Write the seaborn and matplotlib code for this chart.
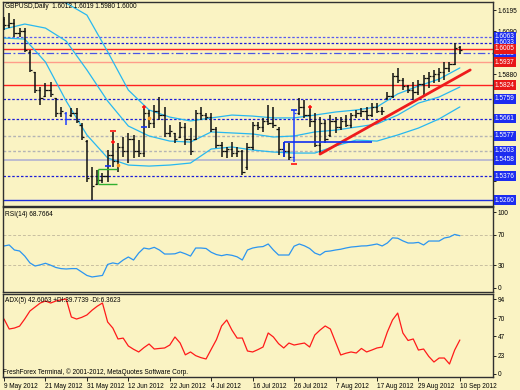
import matplotlib
matplotlib.use("Agg")
import matplotlib.pyplot as plt
import matplotlib.transforms as mtransforms
import seaborn as sns
import numpy as np
import pandas as pd

sns.set_theme(style="white")
plt.rcParams["font.family"] = ["Liberation Sans", "DejaVu Sans"]

BG = "#faf3c3"
W, H = 520, 390
FS = 4.7

# ---- data ----
dates = pd.bdate_range("2012-05-09", "2012-09-10")

highs = [1.6161, 1.6180, 1.6151, 1.6106, 1.6106, 1.5998, 1.5890, 1.5816, 1.5836, 1.5841,
         1.5762, 1.5718, 1.5693, 1.5713, 1.5713, 1.5639, 1.5555, 1.5423, 1.5408, 1.5393,
         1.5506, 1.5595, 1.5541, 1.5570, 1.5590, 1.5580, 1.5555, 1.5718, 1.5703, 1.5728,
         1.5767, 1.5718, 1.5629, 1.5590, 1.5644, 1.5639, 1.5614, 1.5703, 1.5718, 1.5688,
         1.5688, 1.5619, 1.5546, 1.5521, 1.5546, 1.5521, 1.5506, 1.5541, 1.5644, 1.5644,
         1.5664, 1.5728, 1.5718, 1.5619, 1.5546, 1.5541, 1.5703, 1.5762, 1.5752, 1.5718,
         1.5688, 1.5669, 1.5654, 1.5678, 1.5669, 1.5669, 1.5678, 1.5688, 1.5703, 1.5713,
         1.5718, 1.5737, 1.5737, 1.5718, 1.5791, 1.5885, 1.5910, 1.5860, 1.5826, 1.5841,
         1.5851, 1.5875, 1.5890, 1.5900, 1.5910, 1.5939, 1.5939, 1.6033, 1.6019]
lows = [1.6097, 1.6106, 1.6062, 1.6062, 1.5988, 1.5890, 1.5787, 1.5728, 1.5767, 1.5767,
        1.5669, 1.5669, 1.5629, 1.5669, 1.5639, 1.5555, 1.5349, 1.5260, 1.5334, 1.5344,
        1.5349, 1.5423, 1.5398, 1.5472, 1.5442, 1.5467, 1.5472, 1.5472, 1.5614, 1.5614,
        1.5654, 1.5570, 1.5570, 1.5541, 1.5565, 1.5531, 1.5482, 1.5555, 1.5654, 1.5654,
        1.5595, 1.5516, 1.5472, 1.5467, 1.5472, 1.5472, 1.5383, 1.5408, 1.5506, 1.5605,
        1.5595, 1.5629, 1.5614, 1.5482, 1.5472, 1.5457, 1.5447, 1.5678, 1.5664, 1.5619,
        1.5521, 1.5491, 1.5541, 1.5570, 1.5590, 1.5605, 1.5619, 1.5614, 1.5664, 1.5669,
        1.5654, 1.5669, 1.5688, 1.5678, 1.5752, 1.5762, 1.5836, 1.5801, 1.5787, 1.5752,
        1.5777, 1.5777, 1.5811, 1.5836, 1.5841, 1.5851, 1.5890, 1.5924, 1.5980]
opens = [1.6150, 1.6120, 1.6130, 1.6080, 1.6090, 1.5990, 1.5890, 1.5800, 1.5770, 1.5800,
         1.5760, 1.5690, 1.5690, 1.5680, 1.5690, 1.5630, 1.5550, 1.5380, 1.5340, 1.5360,
         1.5380, 1.5480, 1.5450, 1.5520, 1.5500, 1.5560, 1.5500, 1.5490, 1.5690, 1.5640,
         1.5700, 1.5680, 1.5590, 1.5590, 1.5570, 1.5620, 1.5560, 1.5560, 1.5690, 1.5680,
         1.5670, 1.5610, 1.5530, 1.5500, 1.5510, 1.5490, 1.5500, 1.5420, 1.5520, 1.5630,
         1.5620, 1.5650, 1.5640, 1.5610, 1.5510, 1.5500, 1.5470, 1.5690, 1.5720, 1.5680,
         1.5650, 1.5530, 1.5640, 1.5580, 1.5650, 1.5620, 1.5650, 1.5630, 1.5680, 1.5690,
         1.5700, 1.5680, 1.5720, 1.5700, 1.5760, 1.5770, 1.5870, 1.5850, 1.5820, 1.5800,
         1.5790, 1.5830, 1.5860, 1.5870, 1.5880, 1.5890, 1.5910, 1.5930, 1.6012]
closes = [1.6120, 1.6130, 1.6080, 1.6090, 1.6000, 1.5900, 1.5800, 1.5760, 1.5800, 1.5780,
          1.5690, 1.5700, 1.5660, 1.5690, 1.5650, 1.5570, 1.5370, 1.5330, 1.5360, 1.5380,
          1.5480, 1.5450, 1.5520, 1.5500, 1.5560, 1.5500, 1.5490, 1.5690, 1.5640, 1.5700,
          1.5680, 1.5590, 1.5600, 1.5560, 1.5620, 1.5560, 1.5500, 1.5690, 1.5680, 1.5670,
          1.5610, 1.5530, 1.5500, 1.5510, 1.5490, 1.5500, 1.5400, 1.5520, 1.5630, 1.5620,
          1.5650, 1.5640, 1.5630, 1.5510, 1.5500, 1.5470, 1.5690, 1.5720, 1.5680, 1.5650,
          1.5530, 1.5640, 1.5560, 1.5650, 1.5620, 1.5650, 1.5630, 1.5680, 1.5690, 1.5700,
          1.5680, 1.5720, 1.5700, 1.5700, 1.5770, 1.5870, 1.5850, 1.5820, 1.5800, 1.5790,
          1.5830, 1.5860, 1.5870, 1.5880, 1.5890, 1.5910, 1.5930, 1.6010, 1.6000]
blue_bars = [12, 56]

# envelope / bands (read every 4th bar)
band_idx = list(range(0, 89, 4))
band_upper = [1.6392, 1.6333, 1.6269, 1.6229, 1.6170, 1.5990, 1.5801, 1.5703, 1.5668, 1.5649,
              1.5664, 1.5678, 1.5673, 1.5664, 1.5664, 1.5678, 1.5693, 1.5703, 1.5718, 1.5782,
              1.5821, 1.5855, 1.5910]
band_mid = [1.6101, 1.6126, 1.6106, 1.6042, 1.5900, 1.5747, 1.5624, 1.5575, 1.5550, 1.5545,
            1.5595, 1.5590, 1.5585, 1.5570, 1.5575, 1.5595, 1.5604, 1.5619, 1.5634, 1.5678,
            1.5737, 1.5767, 1.5816]
band_lower = [1.6057, 1.6052, 1.5939, 1.5747, 1.5580, 1.5467, 1.5432, 1.5427, 1.5432, 1.5442,
              1.5511, 1.5521, 1.5506, 1.5496, 1.5491, 1.5491, 1.5526, 1.5555, 1.5550, 1.5580,
              1.5614, 1.5659, 1.5718]

# horizontal levels
level_prices = [1.5983, 1.6063, 1.6033, 1.6005, 1.5937, 1.5824, 1.5759, 1.5661,
                1.5577, 1.5503, 1.5458, 1.5376, 1.5260]
level_kinds = ["dashdot", "dotlight", "dot", "red", "salmon", "red", "dot", "dot",
               "grey", "grey", "lavender", "dot", "solidblue"]

trend_idx = [61, 90]
trend_price = [1.5486, 1.5900]
green_x = [18.1, 21.9]
green_y = [1.5339, 1.5413]
bluebox_x = [54, 71]
bluebox_y = [1.5472, 1.5545]

red_marks_idx = [21, 27, 59]
red_marks_price = [1.5545, 1.5718, 1.5718]
blue_dash_idx = [27, 56, 20]
blue_dash_price = [1.5619, 1.5703, 1.5425]
red_dash_idx = [56, 21]
red_dash_price = [1.5437, 1.5600]
orange_idx = [22, 28]
orange_price = [1.5432, 1.5664]

rsi = [55.3, 56.6, 50.0, 48.7, 42.0, 33.0, 28.9, 30.5, 32.5, 30.0,
       27.0, 25.5, 25.0, 25.5, 25.5, 21.0, 16.5, 14.5, 15.5, 16.5,
       31.0, 33.0, 31.6, 36.8, 40.8, 36.8, 46.0, 52.6, 51.3, 53.5,
       50.0, 44.7, 44.7, 45.0, 47.4, 45.0, 42.0, 52.6, 52.6, 52.0,
       47.0, 44.0, 42.5, 44.0, 43.0, 41.0, 36.8, 50.0, 52.6, 53.9,
       54.5, 57.9, 50.0, 43.4, 43.4, 43.4, 55.0, 57.9, 55.5, 52.0,
       46.0, 43.4, 48.0, 48.7, 50.0, 51.0, 52.6, 53.9, 54.5, 55.3,
       55.5, 56.6, 57.9, 55.3, 59.2, 66.0, 65.5, 62.0, 59.2, 59.2,
       60.0, 56.6, 61.8, 61.8, 61.8, 65.8, 67.1, 70.5, 68.8]
adx = [68.9, 56.4, 57.6, 60.0, 69.0, 79.0, 84.0, 89.0, 91.5, 89.0,
       91.5, 93.0, 94.0, 71.4, 68.9, 71.0, 74.0, 80.0, 85.0, 89.0,
       65.2, 57.6, 43.9, 45.0, 35.1, 31.0, 27.6, 33.0, 37.6, 31.3,
       32.0, 32.6, 36.3, 46.4, 38.8, 24.0, 27.6, 23.0, 20.5, 18.8,
       31.0, 43.0, 60.2, 67.7, 55.0, 45.0, 45.1, 28.8, 27.6, 30.5,
       33.8, 51.4, 46.4, 38.0, 32.6, 38.8, 36.3, 37.6, 38.8, 33.8,
       48.9, 55.0, 60.2, 56.4, 40.0, 23.8, 26.0, 27.6, 26.3, 32.0,
       27.6, 30.0, 32.6, 33.8, 52.6, 67.7, 76.4, 51.4, 42.0, 43.9,
       30.0, 31.3, 22.0, 15.0, 20.0, 20.0, 12.5, 30.0, 42.6]

price_ticks = [1.6195, 1.6090, 1.5985, 1.5880, 1.5775, 1.5670, 1.5565, 1.5460, 1.5355, 1.5250]
price_tick_shown = [1.6195, 1.6090, 1.5880]
rsi_ticks = [0, 30, 70, 100]
adx_ticks = [0, 23, 47, 70, 94]

# ---- figure ----
fig = plt.figure(figsize=(W / 100, H / 100), dpi=100, facecolor=BG)


def axes_px(left, top, right, bottom):
    return fig.add_axes([left / W, 1 - bottom / H, (right - left) / W, (bottom - top) / H])


ax = axes_px(3, 2, 493, 206)
ax_rsi = axes_px(3, 207, 493, 292)
ax_adx = axes_px(3, 294, 493, 377)

for a in (ax, ax_rsi, ax_adx):
    a.set_facecolor(BG)
    for s in a.spines.values():
        s.set_color("#303030")
        s.set_linewidth(1.0)
    a.yaxis.tick_right()
    a.tick_params(axis="y", length=2, width=0.6, labelsize=FS, pad=1.5,
                  colors="black", right=True, left=False)
    a.tick_params(axis="x", bottom=False, labelbottom=False)

idx = np.arange(len(dates))

# main price panel
ax.set_ylim(1.52305, 1.62344)
ax.set_yticks(price_ticks)
ax.set_yticklabels([f"{p:.4f}" if p in price_tick_shown else "" for p in price_ticks])

styles = {
    "dashdot": dict(color="#4b55e6", ls=(0, (6, 2, 1.5, 2)), lw=0.9),
    "dotlight": dict(color="#5a5af0", ls=(0, (2, 1.5)), lw=0.9),
    "dot": dict(color="#1c1cd8", ls=(0, (2, 1.5)), lw=0.9),
    "red": dict(color="#ff2020", ls="-", lw=1.0),
    "salmon": dict(color="#ff9d8a", ls="-", lw=1.0),
    "grey": dict(color="#b4b4b4", ls=(0, (2, 1.5)), lw=1.0),
    "lavender": dict(color="#b8b8d0", ls="-", lw=1.3),
    "solidblue": dict(color="#2030e0", ls="-", lw=1.0),
}
for p, k in zip(level_prices, level_kinds):
    ax.axhline(p, zorder=1, **styles[k])

cyan = "#28b8f0"
for band in (band_upper, band_mid, band_lower):
    sns.lineplot(x=band_idx, y=band, ax=ax, color=cyan, linewidth=0.9, zorder=2)

bar_colors = ["#2040ff" if i in blue_bars else "#101010" for i in idx]
ax.vlines(idx, lows, highs, colors=bar_colors, linewidth=1.1, zorder=3)
ax.hlines(opens, idx - 0.45, idx, colors=bar_colors, linewidth=0.9, zorder=3)
ax.hlines(closes, idx, idx + 0.45, colors=bar_colors, linewidth=0.9, zorder=3)

ax.plot(trend_idx, trend_price, color="#ee1c1c", linewidth=2.0, zorder=4)
ax.hlines(green_y, green_x[0], green_x[1], colors="#30b030", linewidth=1.0, zorder=4)
ax.vlines(green_x[0], green_y[0], green_y[1], colors="#30b030", linewidth=1.0, zorder=4)
ax.hlines(bluebox_y[1], bluebox_x[0], bluebox_x[1], colors="#1030f0", linewidth=1.2, zorder=4)
ax.vlines(bluebox_x[0], bluebox_y[0], bluebox_y[1], colors="#1030f0", linewidth=1.2, zorder=4)

ax.plot(red_marks_idx, red_marks_price, ls="none", marker="+", ms=3.5, mew=1.1,
        color="#ff1010", zorder=5)
ax.plot(blue_dash_idx, blue_dash_price, ls="none", marker="_", ms=4, mew=1.2,
        color="#1030f0", zorder=5)
ax.plot(red_dash_idx, red_dash_price, ls="none", marker="_", ms=4, mew=1.2,
        color="#ff1010", zorder=5)
ax.plot(orange_idx, orange_price, ls="none", marker="o", ms=1.6, color="#ff9a20", zorder=5)

trans = mtransforms.blended_transform_factory(ax.transAxes, ax.transData)
for p, k in zip(level_prices, level_kinds):
    fc = "#e81818" if k in ("red", "salmon") else "#1c2cf0"
    ax.text(1.004, p, f"{p:.4f}", transform=trans, fontsize=FS, color="white",
            va="center", ha="left", clip_on=False, zorder=6,
            bbox=dict(boxstyle="square,pad=0.22", fc=fc, ec="none"))

# RSI
ax_rsi.set_ylim(-5.3, 106.6)
ax_rsi.set_yticks(rsi_ticks)
for lvl in (30, 70):
    ax_rsi.axhline(lvl, color="#c8bfa0", ls=(0, (3, 2)), lw=0.7, zorder=1)
sns.lineplot(x=idx, y=rsi, ax=ax_rsi, color="#2b95f0", linewidth=0.9)

# ADX
ax_adx.set_ylim(-3.8, 100.3)
ax_adx.set_yticks(adx_ticks)
sns.lineplot(x=idx, y=adx, ax=ax_adx, color="#ff1a1a", linewidth=0.9)

for a in (ax, ax_rsi, ax_adx):
    a.set_xlim(-0.2, 94.4)
    a.set_xlabel("")
    a.set_ylabel("")

ax_adx.set_xticks(idx[::8])
ax_adx.set_xticklabels([f"{d.day} {d:%b %Y}" for d in dates[::8]], ha="left")
ax_adx.tick_params(axis="x", bottom=True, labelbottom=True, length=3, width=0.6,
                   labelsize=FS, pad=1, colors="black")


def ftext(x, y, s, **kw):
    fig.text(x / W, 1 - y / H, s, fontsize=FS, color="black", va="center", ha="left", **kw)


ftext(5, 7, "GBPUSD,Daily  1.6012 1.6019 1.5980 1.6000")
ftext(5, 214, "RSI(14) 68.7664")
ftext(5, 300, "ADX(5) 42.6063 +DI:39.7739 -DI:6.3623")
ftext(3, 372, "FreshForex Terminal, \u00a9 2001-2012, MetaQuotes Software Corp.")

fig.savefig("out.png", dpi=100, facecolor=BG)
